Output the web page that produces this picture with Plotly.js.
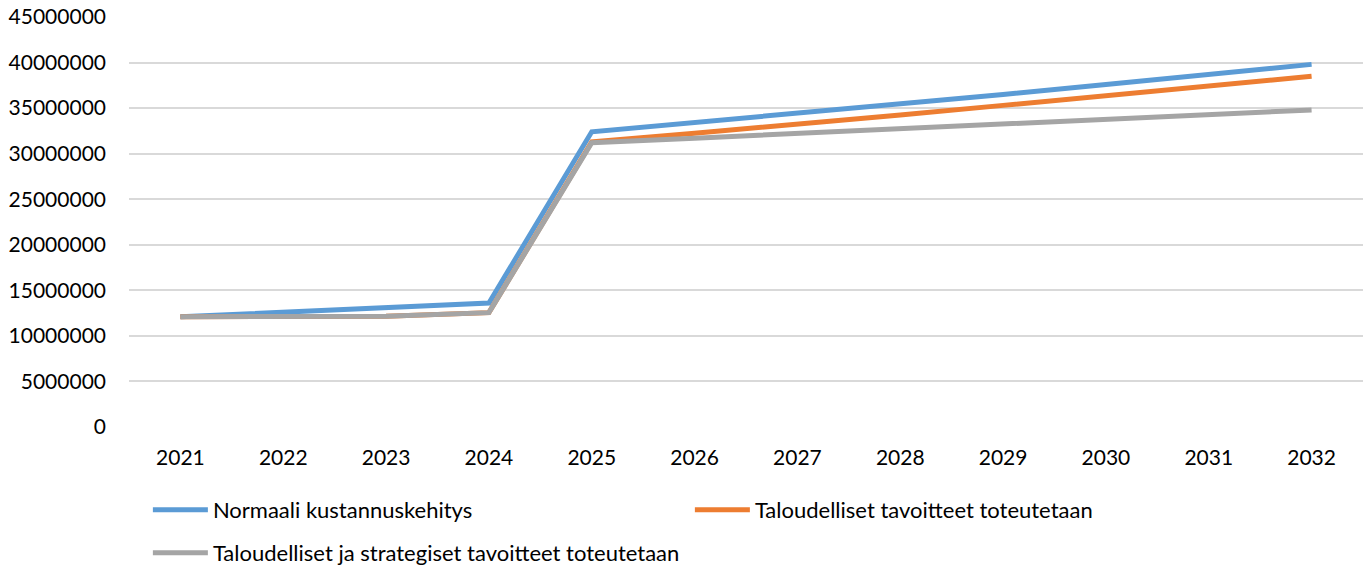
<!DOCTYPE html>
<html>
<head>
<meta charset="utf-8">
<script src="https://cdn.plot.ly/plotly-3.0.1.min.js"></script>
<style>html,body{margin:0;padding:0;background:#fff;}#chart{width:1365px;height:570px;}</style>
</head>
<body>
<div id="chart"></div>
<script>
const years = ['2021','2022','2023','2024','2025','2026','2027','2028','2029','2030','2031','2032'];
const normaali = [12100000, 12600000, 13150000, 13600000, 32400000, 33400000, 34400000, 35450000, 36500000, 37600000, 38700000, 39800000];
const taloudelliset = [12100000, 12100000, 12150000, 12550000, 31300000, 32250000, 33200000, 34250000, 35300000, 36350000, 37400000, 38500000];
const strategiset = [12100000, 12100000, 12150000, 12550000, 31200000, 31700000, 32200000, 32750000, 33250000, 33750000, 34250000, 34800000];
const names = ['Normaali kustannuskehitys', 'Taloudelliset tavoitteet toteutetaan', 'Taloudelliset ja strategiset tavoitteet toteutetaan'];
const colors = ['#5B9BD5', '#ED7D31', '#A5A5A5'];
const legendIds = ['legend', 'legend', 'legend2'];
const yTicks = [0,5000000,10000000,15000000,20000000,25000000,30000000,35000000,40000000,45000000];

const series = [normaali, taloudelliset, strategiset];
const traces = series.map((s, i) => ({
  x: years, y: s, type: 'scatter', mode: 'lines', name: names[i],
  legend: legendIds[i],
  line: {color: colors[i], width: 5}
}));

const FONT = 'Lato, "Open Sans", sans-serif';
const legendCommon = {orientation: 'h', xanchor: 'left', yanchor: 'middle',
  itemwidth: 55, font: {family: FONT, size: 22, color: '#000'}, bgcolor: 'rgba(0,0,0,0)'};

const layout = {
  width: 1365, height: 570,
  margin: {l: 129, r: 2, t: 17, b: 143, autoexpand: false},
  paper_bgcolor: '#fff', plot_bgcolor: '#fff',
  font: {family: FONT, size: 21, color: '#000'},
  showlegend: true,
  xaxis: {type: 'category', range: [-0.5, 11.5], showgrid: false, zeroline: false, showline: false, ticks: '',
          tickfont: {family: FONT, size: 21, color: '#000'}, ticklabelstandoff: 16, fixedrange: true},
  yaxis: {range: [0, 45000000], tickvals: yTicks, ticktext: yTicks.map(String),
          showgrid: true, gridcolor: '#D9D9D9', gridwidth: 2, zeroline: false, showline: false,
          ticks: '', tickfont: {family: FONT, size: 21, color: '#000'}, ticklabelstandoff: 22, fixedrange: true},
  legend: Object.assign({}, legendCommon, {x: 0.0153, y: -0.2024, entrywidth: 472, entrywidthmode: 'pixels'}),
  legend2: Object.assign({}, legendCommon, {x: 0.0153, y: -0.307})
};
Plotly.newPlot('chart', traces, layout, {displayModeBar: false, staticPlot: true});
</script>
</body>
</html>
